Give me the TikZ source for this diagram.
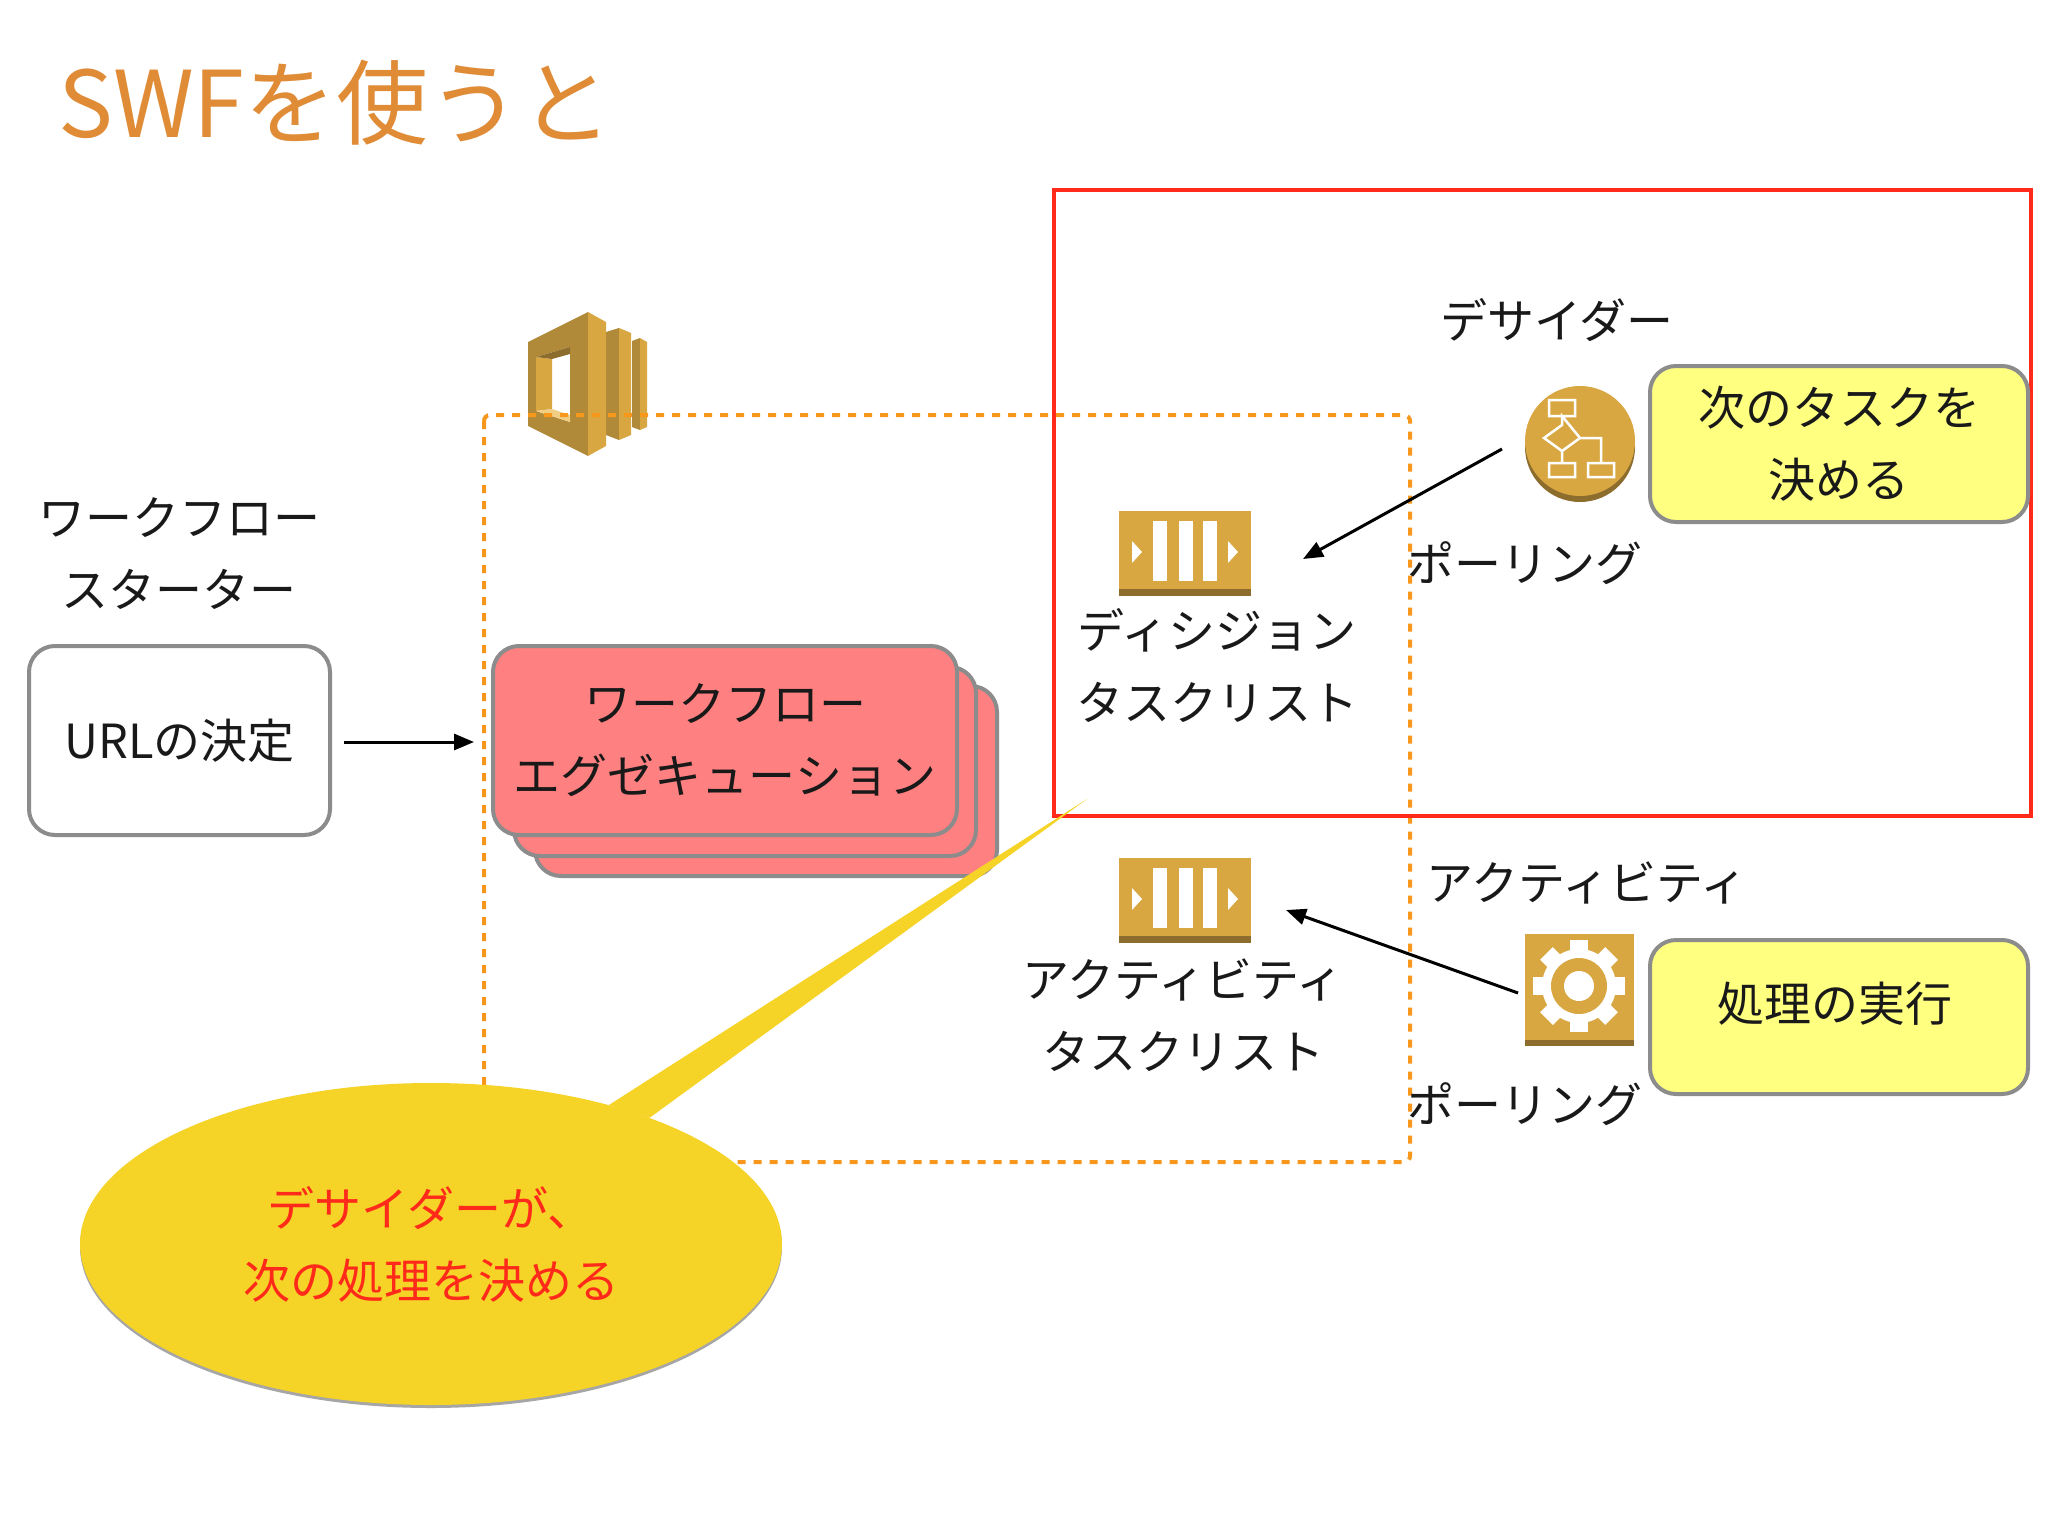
\documentclass[tikz,border=0pt]{standalone}
\usepackage{fontspec}
\setmainfont{Noto Sans CJK JP}
\usetikzlibrary{arrows.meta}
\usetikzlibrary{positioning}
\usetikzlibrary{shapes.geometric}
\definecolor{titleorange}{HTML}{E08B36}
\definecolor{dashorange}{HTML}{F7981D}
\definecolor{boxgray}{HTML}{8C8C8C}
\definecolor{execred}{HTML}{FF8080}
\definecolor{noteyellow}{HTML}{FFFF80}
\definecolor{calloutyellow}{HTML}{F5D327}
\definecolor{framered}{HTML}{FF2A1A}
\definecolor{gold}{HTML}{D9A741}
\definecolor{golddark}{HTML}{8C6D2E}
\definecolor{goldmid}{HTML}{B08A38}
\definecolor{goldlight}{HTML}{F0CF85}
\begin{document}
\begin{tikzpicture}[x=1pt,y=-1pt]
      \tikzset{
        >={Triangle[length=20pt,width=16pt]},
        label text/.style={font=\fontsize{47}{72}\selectfont, text=black!90, align=center, inner sep=0pt},
        roundbox/.style={draw=boxgray, line width=4pt, rounded corners=26pt, anchor=north west, inner sep=0pt},
        poll/.style={->, line width=3pt, black},
        queuebody/.style={fill=gold, minimum width=132pt, minimum height=85pt, inner sep=0pt},
        queuebars/.pic={
          \fill[golddark] (-66,35.5) rectangle (66,42.5);
          \foreach \x in {-32,-6,17.5} {
            \fill[white] (\x,-32) rectangle (\x+14,28);
          }
          \fill[white] (-53,-12) -- (-43,-1) -- (-53,10) -- cycle;
          \fill[white] (43,-12) -- (53,-1) -- (43,10) -- cycle;
        },
        flowchart/.pic={
          \draw[white, line width=2.5pt]
            (-31,-41) rectangle (-5,-25)
            (-31,22) rectangle (-5,36)
            (8,22) rectangle (34,36)
            (-18,-25) -- (-18,-16) -- (-36,-3) -- (-18,10) -- (0,-3) -- cycle
            (-18,10) -- (-18,22)
            (0,-3) -- (21,-3) -- (21,22);
        },
        gearmark/.pic={
          \foreach \a in {0,45,...,315} {
            \fill[white, rotate=\a] (-9,-46) rectangle (9,-30);
          }
          \fill[white] (0,0) circle (37);
          \fill[gold] (0,0) circle (28);
          \fill[white] (0,0) circle (15);
        },
      }
      \useasboundingbox (0,0) rectangle (2048,1536);
      \fill[white] (0,0) rectangle (2048,1536);

      \node[font=\fontsize{92}{92}\selectfont, text=titleorange, anchor=west, inner sep=0pt] (title) at (58,103) {SWFを使うと};

      \fill[goldmid] (606,332) -- (619,328) -- (619,440) -- (606,435) -- cycle;
      \fill[gold] (619,328) -- (631,333) -- (631,435) -- (619,440) -- cycle;
      \fill[goldmid] (632,341) -- (640,338) -- (640,430) -- (632,427) -- cycle;
      \fill[gold] (640,338) -- (647,342) -- (647,427) -- (640,430) -- cycle;
      \fill[goldmid, even odd rule] (528,342) -- (588,312) -- (588,456) -- (528,426) -- cycle
        (536,357) -- (570,347) -- (570,422) -- (536,411) -- cycle;
      \fill[gold] (588,312) -- (606,322) -- (606,446) -- (588,456) -- cycle;
      \fill[gold] (536,357) -- (552,359) -- (552,409) -- (536,411) -- cycle;
      \fill[golddark] (536,357) -- (570,347) -- (570,354) -- (552,359) -- cycle;
      \fill[goldlight] (536,411) -- (552,409) -- (570,415) -- (570,422) -- cycle;

      \draw[dashorange, line width=4pt, dash pattern=on 8pt off 8pt, rounded corners=6pt] (484,415) rectangle (1410,1162);
      \draw[framered, line width=4pt] (1054,190) rectangle (2031,816);

      \node[label text] (starter) at (179,554) {ワークフロー\\スターター};
      \node[roundbox, fill=white, minimum width=301pt, minimum height=189pt, label text, anchor=north west] (urlbox) at (27,644) {URLの決定};

      \node[roundbox, fill=execred, minimum width=462pt, minimum height=190pt] (execc) at (533,684) {};
      \node[roundbox, fill=execred, minimum width=462pt, minimum height=189pt] (execb) at (512,665) {};
      \node[roundbox, fill=execred, minimum width=464pt, minimum height=189pt, label text, anchor=north west] (execa) at (491,644) {ワークフロー\\エグゼキューション};

      \node[queuebody] (decisionq) at (1185,553) {};
      \pic at (decisionq.center) {queuebars};
      \node[label text] (decisionlabel) at (1217,666) {ディシジョン\\タスクリスト};
      \node[queuebody] (activityq) at (1185,900) {};
      \pic at (activityq.center) {queuebars};
      \node[label text] (activitylabel) at (1183,1015) {アクティビティ\\タスクリスト};

      \node[label text] (decider) at (1557,320) {デサイダー};
      \fill[golddark] (1580,447) circle (55);
      \node[circle, fill=gold, minimum size=110pt, inner sep=0pt] (decidericon) at (1580,441) {};
      \pic at (decidericon.center) {flowchart};
      \node[roundbox, fill=noteyellow, minimum width=378pt, minimum height=156pt, label text, anchor=north west] (nexttask) at (1648,364) {次のタスクを\\決める};
      \node[label text] (polla) at (1525,563) {ポーリング};

      \node[label text] (activity) at (1587,883) {アクティビティ};
      \node[fill=gold, minimum width=109pt, minimum height=112pt, inner sep=0pt] (gearicon) at (1579.5,990) {};
      \fill[golddark] (gearicon.south west) rectangle ([yshift=6pt]gearicon.south east);
      \pic at (1579,986) {gearmark};
      \node[roundbox, fill=noteyellow, minimum width=378pt, minimum height=154pt, anchor=north west] (runbox) at (1648,938) {};
      \node[label text] (runlabel) at (1835,1004) {処理の実行};
      \node[label text] (pollb) at (1525,1104) {ポーリング};

      \coordinate (urlout) at (344,742);
      \coordinate (execin) at (474,742);
      \coordinate (pollaout) at (1502,449);
      \coordinate (pollain) at (1303,559);
      \coordinate (pollbout) at (1518,993);
      \coordinate (pollbin) at (1286,910);
      \draw[poll] (urlout) -- (execin);
      \draw[poll] (pollaout) -- (pollain);
      \draw[poll] (pollbout) -- (pollbin);

      \fill[black!35] (431,1247) ellipse (351 and 161);
      \node[ellipse, fill=calloutyellow, minimum width=702pt, minimum height=322pt, inner sep=0pt, label text, text=framered] (callout) at (431,1244) {デサイダーが、\\次の処理を決める};
      \coordinate (callouttip) at (1087,799);
      \fill[calloutyellow] (callout.38) -- (callouttip) -- (callout.30) -- cycle;
\end{tikzpicture}
\end{document}
